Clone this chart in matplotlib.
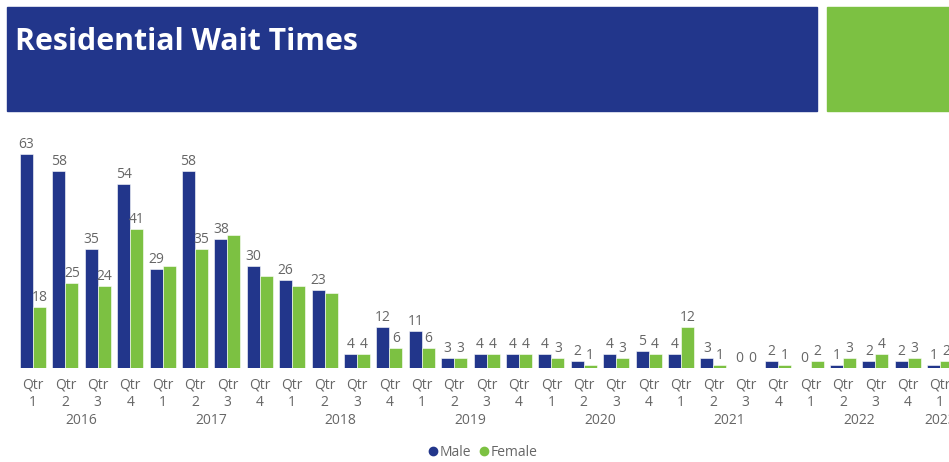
import matplotlib
matplotlib.use('Agg')
import matplotlib.pyplot as plt
from matplotlib.patches import Rectangle
from matplotlib.lines import Line2D

plt.rcParams['font.family'] = ['Open Sans', 'DejaVu Sans']

years = ['2016', '2017', '2018', '2019', '2020', '2021', '2022', '2023']
quarters = ['1', '2', '3', '4'] * 7 + ['1']
male = [63, 58, 35, 54, 29, 58, 38, 30, 26, 23, 4, 12, 11, 3, 4, 4,
        4, 2, 4, 5, 4, 3, 0, 2, 0, 1, 2, 2, 1]
female = [18, 25, 24, 41, 30, 35, 39, 27, 24, 22, 4, 6, 6, 3, 4, 4,
          3, 1, 3, 4, 12, 1, 0, 1, 2, 3, 4, 3, 2]
# labels the report leaves off where they would collide
female_hidden = [4, 6, 7, 8, 9]

blue = '#22368B'
green = '#7CC142'
grey = '#666666'

W, H = 949, 462
fig = plt.figure(figsize=(W / 100, H / 100), dpi=100)

# header banner
fig.patches.append(Rectangle((7 / W, 1 - 111 / H), 810 / W, 104 / H,
                             transform=fig.transFigure, color=blue))
fig.patches.append(Rectangle((827 / W, 1 - 111 / H), 122 / W, 104 / H,
                             transform=fig.transFigure, color=green))
fig.text(15 / W, 1 - 50 / H, 'Residential Wait Times', color='white',
         fontsize=21.8, fontweight='bold', ha='left', va='baseline')

# plot area: baseline at y=368px, 3.4 px per unit, 32.4 px per quarter
base, top = 368, 130
ax = fig.add_axes([0, 1 - base / H, 1, (base - top) / H])
x0, step = 33, 32.4
ax.set_xlim(-x0 / step, (W - x0) / step)
ax.set_ylim(0, (base - top) / 3.4)
ax.axis('off')

n = len(male)
xs = list(range(n))
bw = 0.4
ax.bar([x - bw / 2 for x in xs], male, width=bw, color=blue,
       edgecolor='white', linewidth=0.4)
ax.bar([x + bw / 2 for x in xs], female, width=bw, color=green,
       edgecolor='white', linewidth=0.4)

for i in xs:
    ax.annotate(str(male[i]), (i - bw / 2, male[i]), xytext=(0, 1.5),
                textcoords='offset points', ha='center', va='bottom',
                fontsize=10, color=grey)
    if i not in female_hidden:
        ax.annotate(str(female[i]), (i + bw / 2, female[i]), xytext=(0, 1.5),
                    textcoords='offset points', ha='center', va='bottom',
                    fontsize=10, color=grey)

trans = ax.get_xaxis_transform()
axh = base - top
for i in xs:
    ax.text(i, -17 / axh, 'Qtr', transform=trans, ha='center', va='center',
            fontsize=10, color=grey, clip_on=False)
    ax.text(i, -35 / axh, quarters[i], transform=trans, ha='center',
            va='center', fontsize=10, color=grey, clip_on=False)

# year labels centred under their quarters
for k, y in enumerate(years):
    idx = [i for i in xs if i // 4 == k]
    ax.text(sum(idx) / len(idx), -53 / axh, y, transform=trans,
            ha='center', va='center', fontsize=10, color=grey, clip_on=False)

handles = [Line2D([], [], marker='o', ls='', color=blue, markersize=6),
           Line2D([], [], marker='o', ls='', color=green, markersize=6)]
fig.legend(handles, ['Male', 'Female'], loc='center',
           bbox_to_anchor=(482 / W, 1 - 452 / H), ncol=2, frameon=False,
           fontsize=10, labelcolor=grey, handletextpad=0.0,
           columnspacing=0.4, handlelength=1.0)

fig.savefig('out.png', dpi=100, facecolor='white')
